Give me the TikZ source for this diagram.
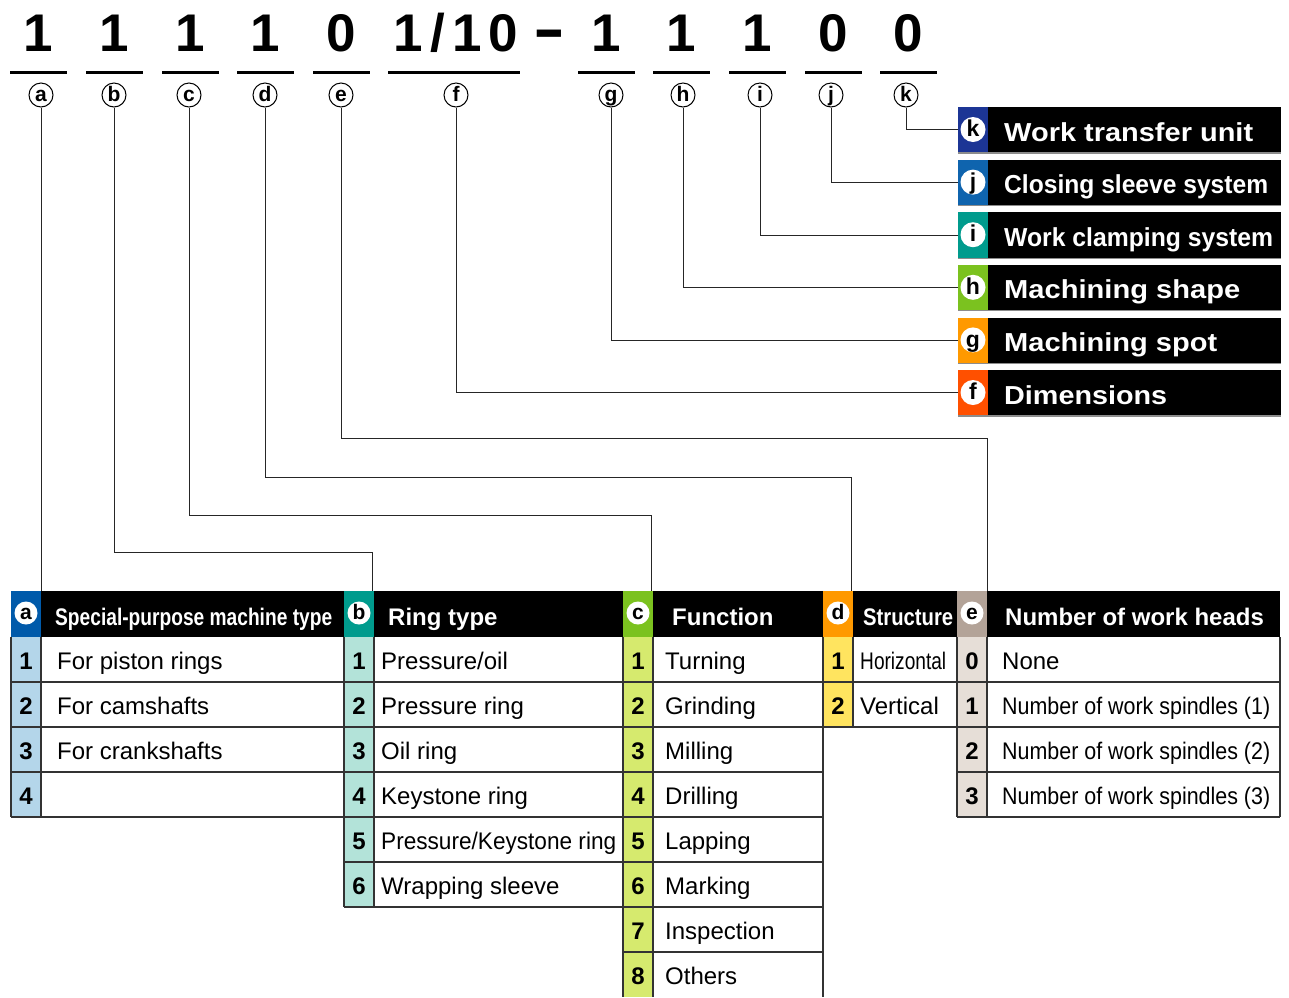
\documentclass[tikz,border=0pt]{standalone}
\usepackage{fontspec}
\setmainfont{Liberation Sans}
\usepackage{graphicx}
\newcommand\fitx[2]{\resizebox{#1pt}{\height}{#2}}
\definecolor{colA}{HTML}{005AAA}\definecolor{lightA}{HTML}{B4D6EA}
\definecolor{colB}{HTML}{009B8D}\definecolor{lightB}{HTML}{B3E3D9}
\definecolor{colC}{HTML}{7BC21F}\definecolor{lightC}{HTML}{D6EA6E}
\definecolor{colD}{HTML}{FF9900}\definecolor{lightD}{HTML}{FFE45F}
\definecolor{colE}{HTML}{B3A398}\definecolor{lightE}{HTML}{E6DED7}
\definecolor{legk}{HTML}{1C3595}\definecolor{legj}{HTML}{0F64AE}
\definecolor{legi}{HTML}{009B8D}\definecolor{legh}{HTML}{7BC21F}
\definecolor{legg}{HTML}{FF9900}\definecolor{legf}{HTML}{FF5000}
\definecolor{gridc}{HTML}{333333}
\begin{document}
\begin{tikzpicture}[x=1pt,y=-1pt,
  topdig/.style={font=\bfseries\fontsize{53}{53}\selectfont, anchor=base, inner sep=0pt},
  ulin/.style={line width=3pt},
  toplab/.style={circle, draw=black, line width=1pt, fill=white, minimum size=24pt, inner sep=0pt,
     font=\bfseries\fontsize{21}{21}\selectfont, text height=13.2pt, text depth=0pt},
  wcirc/.style={circle, fill=white, inner sep=0pt, text depth=0pt},
  legcirc/.style={wcirc, minimum size=25pt, font=\bfseries\fontsize{23}{23}\selectfont, text height=14.4pt},
  hcirc/.style={wcirc, minimum size=23pt, font=\bfseries\fontsize{21}{21}\selectfont, text height=13.2pt},
  strip/.style={rectangle, inner sep=0pt, minimum width=30pt},
  legtxt/.style={anchor=base west, inner sep=0pt, text=white, font=\bfseries\fontsize{26}{26}\selectfont},
  htxt/.style={anchor=base west, inner sep=0pt, text=white, font=\bfseries\fontsize{24}{24}\selectfont},
  num/.style={anchor=base, inner sep=0pt, font=\bfseries\fontsize{24}{24}\selectfont},
  cell/.style={anchor=base west, inner sep=0pt, font=\fontsize{24}{24}\selectfont},
  grid/.style={draw=gridc, line width=1.3pt},
  conn/.style={draw=black!85, line width=1pt}]
\useasboundingbox (0,0) rectangle (1289,997);

% ---------- top code ----------
\foreach \n/\x/\d in {a/38.5/1, b/114.5/1, c/190.5/1, d/265.5/1, e/341.5/0,
                      g/606.5/1, h/681.5/1, i/757.5/1, j/833.5/0, k/908.5/0}
  \node[topdig] (d\n) at (\x,51) {\d};
\node[topdig] (df) at (456,51) {1\kern7pt/\kern7pt1\kern7pt0};
\node[topdig] (dash) at (549,49) {\scalebox{1.8}[1.15]{-}};

\foreach \xa/\xb in {10/67, 86/143, 162/219, 237/294, 313/370, 388/520,
                     578/635, 653/710, 729/786, 805/862, 880/937}
  \draw[ulin] (\xa,72) -- (\xb,72);

\foreach \n/\x in {a/41, b/114, c/189, d/265, e/341, f/456, g/611, h/683, i/760, j/831, k/906}
  \node[toplab] (t\n) at (\x,95) {\n};

% ---------- legend boxes ----------
\foreach \n/\txt/\w [count=\k from 0] in {k/Work transfer unit/249, j/Closing sleeve system/264,
    i/Work clamping system/269, h/Machining shape/236, g/Machining spot/213, f/Dimensions/163} {
  \pgfmathsetmacro\ty{107+52.6*\k}
  \node[strip, fill=leg\n, minimum height=45.5pt, anchor=north west] (ls\n) at (958,\ty) {};
  \node[rectangle, inner sep=0pt, fill=black, minimum width=293pt, minimum height=45.5pt, anchor=north west] (lb\n) at (988,\ty) {};
  \draw[black!45, line width=1.2pt] (ls\n.south west) -- (lb\n.south east);
  \node[legcirc] (lc\n) at (973,\ty+22.5) {\n};
  \node[legtxt] (lt\n) at (1004,\ty+34) {\fitx{\w}{\txt}};
}

% ---------- tables: fills ----------
\fill[lightA] (11,637) rectangle (41,817);
\fill[lightB] (344,637) rectangle (374,907);
\fill[lightC] (623,637) rectangle (653,997);
\fill[lightD] (823,637) rectangle (853,727);
\fill[lightE] (957,637) rectangle (987,817);

% header bars
\node[rectangle, inner sep=0pt, fill=black, minimum width=303pt, minimum height=46pt, anchor=north west] (ba) at (41,591) {};
\node[rectangle, inner sep=0pt, fill=black, minimum width=249pt, minimum height=46pt, anchor=north west] (bb) at (374,591) {};
\node[rectangle, inner sep=0pt, fill=black, minimum width=170pt, minimum height=46pt, anchor=north west] (bc) at (653,591) {};
\node[rectangle, inner sep=0pt, fill=black, minimum width=104pt, minimum height=46pt, anchor=north west] (bd) at (853,591) {};
\node[rectangle, inner sep=0pt, fill=black, minimum width=293pt, minimum height=46pt, anchor=north west] (be) at (987,591) {};

\node[strip, fill=colA, minimum height=46pt, anchor=north west] (sa) at (11,591) {};
\node[strip, fill=colB, minimum height=46pt, anchor=north west] (sb) at (344,591) {};
\node[strip, fill=colC, minimum height=46pt, anchor=north west] (sc) at (623,591) {};
\node[strip, fill=colD, minimum height=46pt, anchor=north west] (sd) at (823,591) {};
\node[strip, fill=colE, minimum height=46pt, anchor=north west] (se) at (957,591) {};

\foreach \n/\x in {a/26, b/359, c/638, d/838, e/972}
  \node[hcirc] (h\n) at (\x,613) {\n};

\node[htxt] (hta) at (55,625.5) {\fitx{277}{Special-purpose machine type}};
\node[htxt] (htb) at (388,625.5) {Ring type};
\node[htxt] (htc) at (672,625.5) {Function};
\node[htxt] (htd) at (863,625.5) {\fitx{90}{Structure}};
\node[htxt] (hte) at (1005,625.5) {Number of work heads};

% ---------- grids ----------
\foreach \y in {682,727,772,817} \draw[grid] (11,\y) -- (344,\y);
\draw[grid] (11,637) -- (11,817);
\draw[grid] (41,637) -- (41,817);
\foreach \y in {682,727,772,817,862,907} \draw[grid] (344,\y) -- (623,\y);
\draw[grid] (344,637) -- (344,907);
\draw[grid] (374,637) -- (374,907);
\foreach \y in {682,727,772,817,862,907,952} \draw[grid] (623,\y) -- (823,\y);
\draw[grid] (623,637) -- (623,997);
\draw[grid] (653,637) -- (653,997);
\draw[grid] (823,637) -- (823,997);
\foreach \y in {682,727} \draw[grid] (823,\y) -- (957,\y);
\draw[grid] (853,637) -- (853,727);
\foreach \y in {682,727,772,817} \draw[grid] (957,\y) -- (1280,\y);
\draw[grid] (957,637) -- (957,817);
\draw[grid] (987,637) -- (987,817);
\draw[grid] (1280,637) -- (1280,817);

% ---------- table contents ----------
\foreach \i/\t [count=\k from 0] in {1/For piston rings, 2/For camshafts, 3/For crankshafts, 4/{}} {
  \node[num] (an\i) at (26,{669.5+45*\k}) {\i};
  \node[cell] (at\i) at (57,{669.5+45*\k}) {\t};
}
\foreach \i/\t [count=\k from 0] in {1/{Pressure/oil}, 2/Pressure ring, 3/Oil ring, 4/Keystone ring,
    5/{\fitx{235}{Pressure/Keystone ring}}, 6/Wrapping sleeve} {
  \node[num] (bn\i) at (359,{669.5+45*\k}) {\i};
  \node[cell] (bt\i) at (381,{669.5+45*\k}) {\t};
}
\foreach \i/\t [count=\k from 0] in {1/Turning, 2/Grinding, 3/Milling, 4/Drilling,
    5/Lapping, 6/Marking, 7/Inspection, 8/Others} {
  \node[num] (cn\i) at (638,{669.5+45*\k}) {\i};
  \node[cell] (ct\i) at (665,{669.5+45*\k}) {\t};
}
\foreach \i/\t [count=\k from 0] in {1/{\fitx{86}{Horizontal}}, 2/Vertical} {
  \node[num] (dn\i) at (838,{669.5+45*\k}) {\i};
  \node[cell] (dt\i) at (860,{669.5+45*\k}) {\t};
}
\foreach \i/\t [count=\k from 0] in {0/None, 1/{\fitx{268}{Number of work spindles (1)}},
    2/{\fitx{268}{Number of work spindles (2)}}, 3/{\fitx{268}{Number of work spindles (3)}}} {
  \node[num] (en\i) at (972,{669.5+45*\k}) {\i};
  \node[cell] (et\i) at (1002,{669.5+45*\k}) {\t};
}

% ---------- connectors ----------
\coordinate (yb) at (0,552);
\coordinate (yc) at (0,515);
\coordinate (yd) at (0,477);
\coordinate (ye) at (0,438);
\draw[conn] (ta.south) -- (ta.south |- sa.north);
\draw[conn] (tb.south) -- (tb.south |- yb) -| ([xshift=-2pt]sb.north east);
\draw[conn] (tc.south) -- (tc.south |- yc) -| ([xshift=-2pt]sc.north east);
\draw[conn] (td.south) -- (td.south |- yd) -| ([xshift=-2pt]sd.north east);
\draw[conn] (te.south) -- (te.south |- ye) -| (se.north east);
\foreach \n in {f,g,h,i,j,k}
  \draw[conn] (t\n.south) |- (ls\n.west);
\end{tikzpicture}
\end{document}
